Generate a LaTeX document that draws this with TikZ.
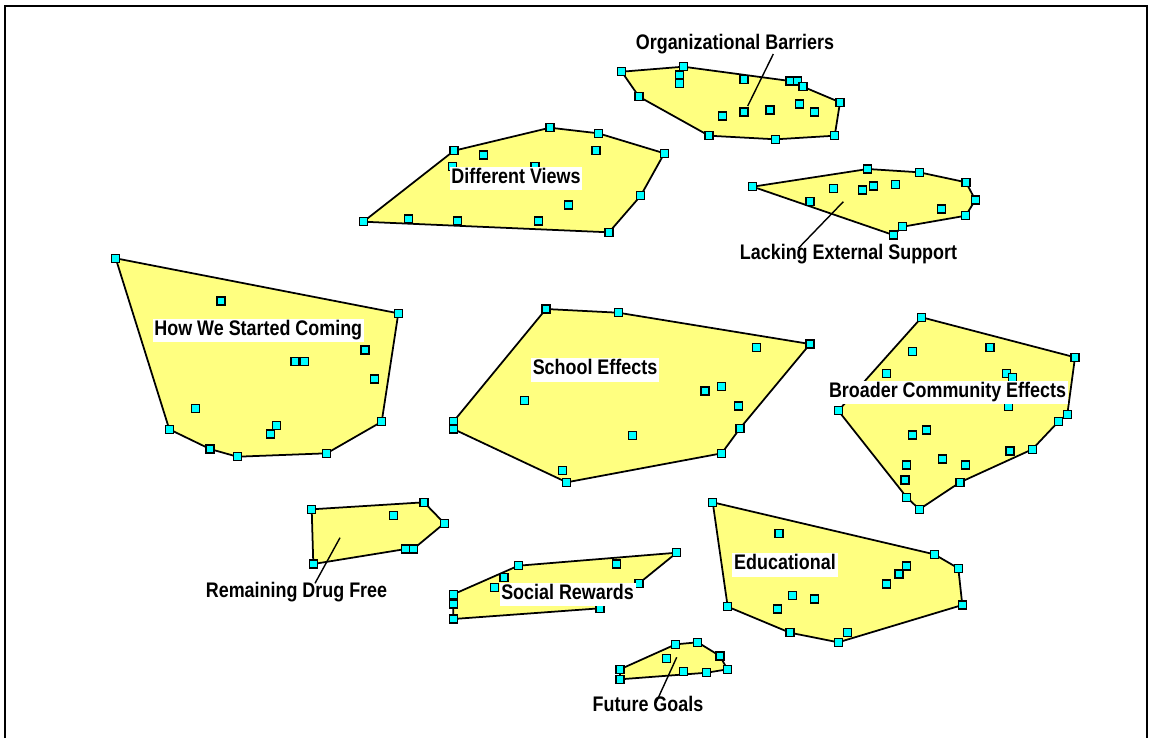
\documentclass[tikz,border=0pt]{standalone}
\usepackage{fontspec}
\setmainfont{Liberation Sans}[FakeStretch=0.85]
\definecolor{clusterfill}{RGB}{255,255,128}
\definecolor{ptfill}{RGB}{0,255,255}
\begin{document}
\begin{tikzpicture}[x=0.02cm, y=-0.02cm,
    cluster/.style={draw, line width=1pt, fill=clusterfill, line join=round},
    pt/.style={rectangle, draw, line width=0.65pt, fill=ptfill, minimum size=0.16cm, inner sep=0pt},
    lbl/.style={font=\bfseries\fontsize{12}{14}\selectfont, inner xsep=1pt, inner ysep=1.8pt, text height=0.75em, text depth=0.22em},
    boxed/.style={lbl, fill=white},
    leader/.style={line width=0.8pt}]
    \useasboundingbox (0,0) rectangle (1151,738);
    % frame
    \draw[line width=1.1pt] (5,738) -- (5,6) -- (1147,6) -- (1147,738);

    % cluster outlines
    \draw[cluster] (621.7,71.7) -- (683.3,66.7) -- (790,81) -- (797.7,81) -- (803,86.7) -- (840,102.3) -- (834.7,135.7) -- (775.7,139.3) -- (709,135.7) -- (639,96.7) -- cycle;
    \draw[cluster] (363.3,221.7) -- (454,150.7) -- (550,127.7) -- (598.3,133.3) -- (664.3,153.3) -- (640.7,195.7) -- (609,232.3) -- cycle;
    \draw[cluster] (752.7,186.7) -- (867.7,169) -- (919.3,172.3) -- (966,182.3) -- (975.3,200) -- (965.7,215.7) -- (902.7,226.7) -- (893.3,235) -- cycle;
    \draw[cluster] (115.7,258.3) -- (398.3,313.3) -- (381.7,421.7) -- (326.7,453.3) -- (237.3,456.7) -- (210,449) -- (169.3,429.3) -- cycle;
    \draw[cluster] (546,309) -- (618.3,312.7) -- (810,344) -- (740,428.3) -- (721.7,453.3) -- (566.7,482.3) -- (453.3,429) -- (453.3,421.7) -- cycle;
    \draw[cluster] (921.7,317.3) -- (1075,357.3) -- (1067.3,414.3) -- (1058.3,421.7) -- (1032.3,449.3) -- (960,482.3) -- (919.3,509.3) -- (906.7,497.3) -- (838.3,410.7) -- cycle;
    \draw[cluster] (311.7,509.3) -- (424,502.3) -- (444.3,523.3) -- (413.3,549) -- (405.7,549) -- (313.3,564) -- cycle;
    \draw[cluster] (453.3,594.3) -- (518.3,565.7) -- (676.7,552.7) -- (639,583.3) -- (600,608.3) -- (453.3,619) -- cycle;
    \draw[cluster] (712.7,502.3) -- (934.3,554.3) -- (958.3,568.3) -- (962.3,605) -- (838.3,642.3) -- (790,632.7) -- (727.7,606.7) -- cycle;
    \draw[cluster] (620,669.3) -- (675.7,644.3) -- (697.7,642.3) -- (720,656) -- (727.3,669.3) -- (706.7,672.7) -- (620,679.3) -- cycle;

    % statement points
    \foreach \x/\y [count=\i] in {621.7/71.7, 683.3/66.7, 679.3/75, 679.3/83.3, 639/96.7, 744/79.3, 790/81, 797.7/81, 803/86.7, 840/102.3, 799.3/104, 814.3/112, 770/110, 744/112, 722.3/116, 709/135.7, 775.7/139.3, 834.7/135.7}
        \node[pt] (ob\i) at (\x,\y) {};
    \foreach \x/\y [count=\i] in {363.3/221.7, 454/150.7, 550/127.7, 598.3/133.3, 664.3/153.3, 640.7/195.7, 609/232.3, 596/150.7, 483.3/155, 452.3/166.7, 535/166.7, 568.3/205, 538.7/221, 457.3/221, 408.3/219}
        \node[pt] (dv\i) at (\x,\y) {};
    \foreach \x/\y [count=\i] in {752.7/186.7, 867.7/169, 919.3/172.3, 966/182.3, 975.3/200, 965.7/215.7, 902.7/226.7, 893.3/235, 810/201.7, 833.3/188.3, 862.3/190, 873.3/186, 895.7/184.3, 941.7/209}
        \node[pt] (les\i) at (\x,\y) {};
    \foreach \x/\y [count=\i] in {115.7/258.3, 398.3/313.3, 381.7/421.7, 326.7/453.3, 237.3/456.7, 210/449, 169.3/429.3, 221/301, 365/350, 374.3/379, 295/361.7, 304.3/361.7, 195.7/408.3, 276.7/425.7, 270.7/434}
        \node[pt] (hw\i) at (\x,\y) {};
    \foreach \x/\y [count=\i] in {546/309, 618.3/312.7, 810/344, 756.7/347.7, 721.7/386.7, 705/391, 738.3/406, 740/428.3, 721.7/453.3, 632.7/435.7, 562.7/470.7, 566.7/482.3, 453.3/421.7, 453.3/429, 524.3/400.7}
        \node[pt] (se\i) at (\x,\y) {};
    \foreach \x/\y [count=\i] in {921.7/317.3, 1075/357.3, 1067.3/414.3, 1058.3/421.7, 1032.3/449.3, 1010/451, 960/482.3, 919.3/509.3, 906.7/497.3, 905/480, 906.7/465, 838.3/410.7, 912.7/351.7, 990/347.7, 886.7/373.3, 1006.7/373.3, 1012.3/377.7, 1008.3/406.7, 926.7/430, 912.7/435, 942.3/459, 965.7/465}
        \node[pt] (bce\i) at (\x,\y) {};
    \foreach \x/\y [count=\i] in {311.7/509.3, 424/502.3, 444.3/523.3, 413.3/549, 405.7/549, 313.3/564, 393.3/515.3}
        \node[pt] (rdf\i) at (\x,\y) {};
    \foreach \x/\y [count=\i] in {676.7/552.7, 616.7/564, 518.3/565.7, 504/577.3, 494.3/587.3, 453.3/594.3, 453.3/604, 453.3/619, 639/583.3, 600/608.3}
        \node[pt] (sr\i) at (\x,\y) {};
    \foreach \x/\y [count=\i] in {712.7/502.3, 934.3/554.3, 958.3/568.3, 962.3/605, 847.7/632.3, 838.3/642.3, 790/632.7, 727.7/606.7, 779/533.3, 906.7/566, 899/574, 886.7/584, 792.3/595.7, 814.3/599, 777.3/609}
        \node[pt] (ed\i) at (\x,\y) {};
    \foreach \x/\y [count=\i] in {620/669.3, 620/679.3, 675.7/644.3, 697.7/642.3, 720/656, 727.3/669.3, 706.7/672.7, 683.3/671.7, 666.7/658.3}
        \node[pt] (fg\i) at (\x,\y) {};

    % leader lines for the outside labels
    \coordinate (obtip) at (747.7,106);   \coordinate (obend) at (773.3,54);
    \coordinate (lestip) at (843.3,201.7); \coordinate (lesend) at (798.3,248.3);
    \coordinate (rdftip) at (340,537.7);  \coordinate (rdfend) at (315,583.3);
    \coordinate (fgtip) at (676.7,657.3); \coordinate (fgend) at (656,702.7);
    \draw[leader] (obtip) -- (obend);
    \draw[leader] (lestip) -- (lesend);
    \draw[leader] (rdftip) -- (rdfend);
    \draw[leader] (fgtip) -- (fgend);

    % cluster names
    \node[lbl] (obname) at (735,45) {Organizational Barriers};
    \node[boxed] (dvname) at (516,178.7) {Different Views};
    \node[lbl] (lesname) at (848.5,255) {Lacking External Support};
    \node[boxed] (hwname) at (258.3,330.5) {How We Started Coming};
    \node[boxed] (sename) at (595,370) {School Effects};
    \node[boxed] (bcename) at (947.5,392.8) {Broader Community Effects};
    \node[lbl] (rdfname) at (296.5,593) {Remaining Drug Free};
    \node[boxed] (srname) at (567.5,594.5) {Social Rewards};
    \node[boxed] (edname) at (785,565) {Educational};
    \node[lbl] (fgname) at (648,707) {Future Goals};
\end{tikzpicture}
\end{document}
